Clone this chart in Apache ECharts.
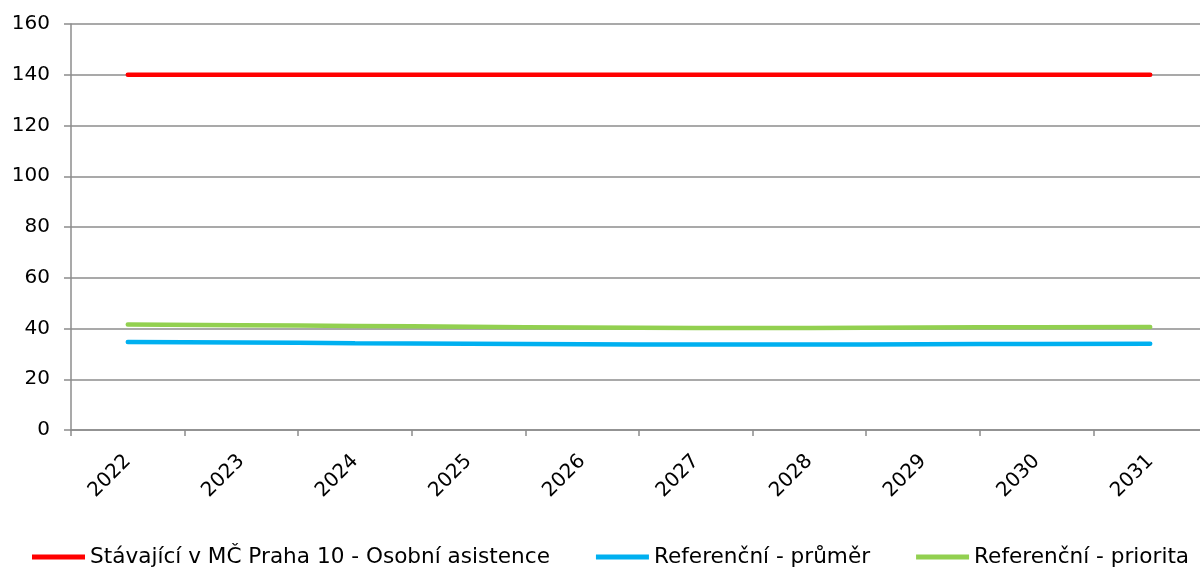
<!DOCTYPE html>
<html>
<head>
<meta charset="utf-8">
<script src="https://cdn.jsdelivr.net/npm/echarts@6/dist/echarts.min.js"></script>
<style>html,body{margin:0;padding:0;background:#fff;overflow:hidden;width:1200px;height:571px;}#c{width:1207px;height:571px;}</style>
</head>
<body>
<div id="c"></div>
<script>
const categories = ['2022','2023','2024','2025','2026','2027','2028','2029','2030','2031'];
const stavajici = [140,140,140,140,140,140,140,140,140,140];
const prumer = [34.7,34.5,34.2,34.0,33.8,33.7,33.7,33.8,33.9,34.0];
const priorita = [41.6,41.3,41.0,40.7,40.4,40.2,40.2,40.4,40.5,40.6];
const yTicks = {min:0, max:160, interval:20};

const FONT = 'DejaVu Sans';
const chart = echarts.init(document.getElementById('c'), null, {renderer:'canvas'});
const gridColor = '#8c8c8c';
chart.setOption({
  animation:false,
  textStyle:{fontFamily:FONT},
  grid:{left:71, top:24, right:0, bottom:141, containLabel:false},
  legend:{
    top:546, left:32, padding:0, itemWidth:53, itemHeight:5, itemGap:46,
    textStyle:{fontFamily:FONT, fontSize:21.6, color:'#000'},
    icon:'rect',
    data:['Stávající v MČ Praha 10 - Osobní asistence','Referenční - průměr','Referenční - priorita']
  },
  xAxis:{
    type:'category', data:categories, boundaryGap:true,
    axisLine:{lineStyle:{color:gridColor, width:1.5}},
    axisTick:{show:true, length:6, lineStyle:{color:gridColor, width:1.5}},
    axisLabel:{rotate:45, fontSize:20, color:'#000', fontFamily:FONT, margin:28}
  },
  yAxis:{
    type:'value', min:yTicks.min, max:yTicks.max, interval:yTicks.interval,
    axisLine:{show:true, lineStyle:{color:gridColor, width:1.5}},
    axisTick:{show:true, length:7, lineStyle:{color:gridColor, width:1.5}},
    splitLine:{lineStyle:{color:gridColor, width:1.5}},
    axisLabel:{fontSize:20, color:'#000', fontFamily:FONT, margin:21}
  },
  series:[
    {name:'Stávající v MČ Praha 10 - Osobní asistence', type:'line', data:stavajici, showSymbol:false, symbol:'none', color:'#FF0000', lineStyle:{width:4.5, color:'#FF0000', cap:'round'}},
    {name:'Referenční - průměr', type:'line', data:prumer, smooth:true, showSymbol:false, symbol:'none', color:'#00B0F0', lineStyle:{width:4.5, color:'#00B0F0', cap:'round'}},
    {name:'Referenční - priorita', type:'line', data:priorita, smooth:true, showSymbol:false, symbol:'none', color:'#92D050', lineStyle:{width:4.5, color:'#92D050', cap:'round'}}
  ]
});
</script>
</body>
</html>
